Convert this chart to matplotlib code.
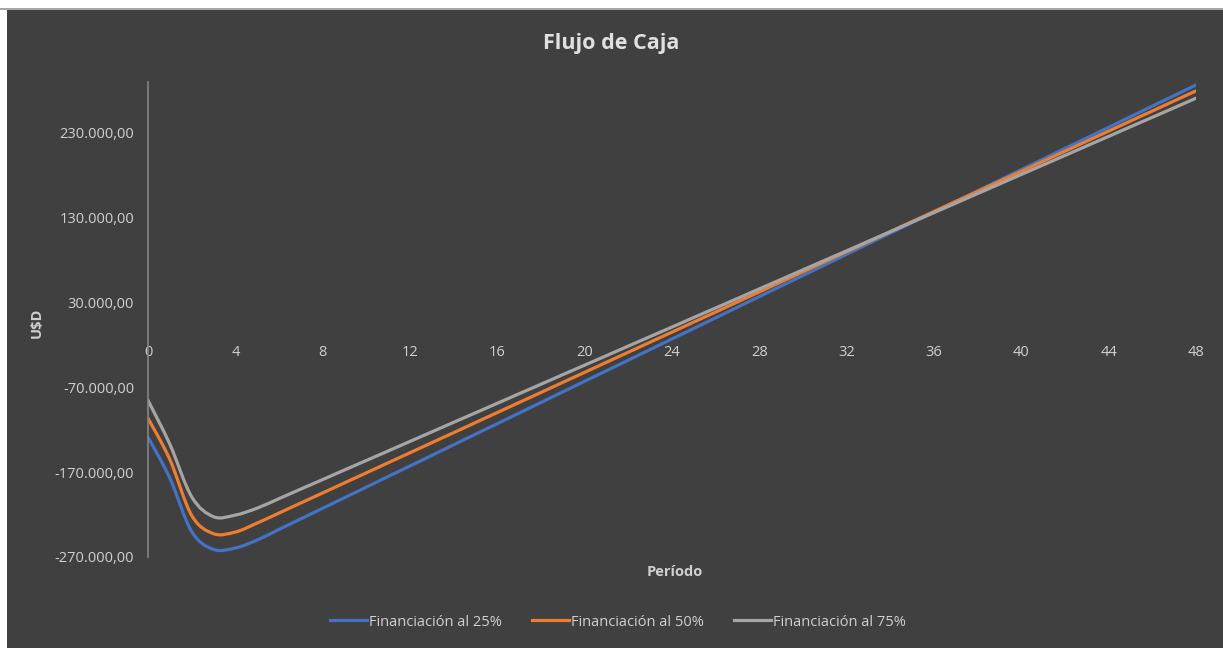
import numpy as np
from matplotlib import pyplot as plt
from matplotlib.lines import Line2D
from matplotlib.patches import PathPatch, Rectangle
from matplotlib.path import Path
from matplotlib.ticker import FuncFormatter

periods = list(range(49))

fin_25 = [
    -128800, -177000, -240000, -261000, -259400, -250000, -237500, -225000,
    -212600, -200100, -187600, -175100, -162700, -150200, -137700, -125200,
    -112800, -100300, -87800, -75300, -62800, -50400, -37900, -25400,
    -12900, -500, 12000, 24500, 37000, 49500, 61900, 74400,
    86900, 99400, 111800, 124300, 136800, 149300, 161700, 174200,
    186700, 199200, 211700, 224100, 236600, 249100, 261600, 274000,
    286500,
]
fin_50 = [
    -106500, -155000, -221000, -242500, -240600, -230000, -218200, -206300,
    -194500, -182600, -170800, -158900, -147100, -135200, -123400, -111500,
    -99700, -87800, -76000, -64100, -52300, -40400, -28600, -16700,
    -4900, 7000, 18800, 30700, 42500, 54400, 66200, 78100,
    89900, 101800, 113600, 125500, 137300, 149200, 161000, 172900,
    184700, 196600, 208400, 220300, 232100, 244000, 255800, 267700,
    279500,
]
fin_75 = [
    -85300, -137000, -199000, -222500, -220600, -212400, -201200, -189900,
    -178700, -167400, -156200, -145000, -133700, -122500, -111200, -100000,
    -88800, -77500, -66300, -55000, -43800, -32600, -21300, -10100,
    1100, 12400, 23600, 34800, 46100, 57300, 68600, 79800,
    91000, 102300, 113500, 124800, 136000, 147200, 158500, 169700,
    181000, 192200, 203400, 214700, 225900, 237200, 248400, 259600,
    270900,
]

series = [
    ("Financiación al 25%", fin_25, "#4472C4"),
    ("Financiación al 50%", fin_50, "#ED7D31"),
    ("Financiación al 75%", fin_75, "#A5A5A5"),
]

y_ticks = [-270000, -170000, -70000, 30000, 130000, 230000]
x_ticks = list(range(0, 49, 4))

BG = "#404040"
TEXT = "#d0d0d0"
FONT = "Open Sans"


def smooth_path(x, y):
    # Catmull-Rom segments written as cubic Bezier curves (spreadsheet-style smoothing)
    pts = np.column_stack([x, y]).astype(float)
    verts = [pts[0]]
    codes = [Path.MOVETO]
    n = len(pts)
    for i in range(n - 1):
        p0 = pts[i - 1] if i > 0 else pts[i]
        p1 = pts[i]
        p2 = pts[i + 1]
        p3 = pts[i + 2] if i + 2 < n else pts[i + 1]
        c1 = p1 + (p2 - p0) / 6.0
        c2 = p2 - (p3 - p1) / 6.0
        verts += [c1, c2, p2]
        codes += [Path.CURVE4] * 3
    return Path(verts, codes)


def thousands(v, _pos):
    s = f"{abs(v):,.2f}".replace(",", "X").replace(".", ",").replace("X", ".")
    return ("-" if v < 0 else "") + s


def main() -> None:
    fig = plt.figure(figsize=(12.23, 6.48), dpi=100, facecolor="white")
    fig.patches.append(Rectangle((7 / 1223, 0), 1 - 7 / 1223, 1 - 10 / 648,
                                 transform=fig.transFigure, facecolor=BG,
                                 edgecolor="none", zorder=-2))
    fig.patches.append(Rectangle((0, 1 - 10 / 648), 1, 2.5 / 648,
                                 transform=fig.transFigure, facecolor="#a8a8a8",
                                 edgecolor="none", zorder=-2))

    ax = fig.add_axes([148 / 1223, 91 / 648, (1196 - 148) / 1223, (557 - 82) / 648])
    ax.set_facecolor("none")

    handles = []
    for label, values, color in series:
        patch = PathPatch(smooth_path(periods, values), facecolor="none",
                          edgecolor=color, linewidth=2.3, capstyle="round",
                          joinstyle="round")
        ax.add_patch(patch)
        handles.append(Line2D([], [], color=color, linewidth=2.3, label=label))

    ax.set_xlim(0, 48)
    ax.set_ylim(-270000, 290000)
    ax.set_xticks(x_ticks)
    ax.set_yticks(y_ticks)
    ax.yaxis.set_major_formatter(FuncFormatter(thousands))

    for side in ("top", "right"):
        ax.spines[side].set_visible(False)
    ax.spines["bottom"].set_position(("data", 0))
    ax.spines["bottom"].set_visible(False)
    ax.spines["left"].set_color("#858585")
    ax.spines["left"].set_linewidth(1.2)

    ax.tick_params(axis="both", length=0, colors=TEXT, labelsize=10.5)
    ax.tick_params(axis="x", pad=12)
    ax.tick_params(axis="y", pad=10)
    for lbl in ax.get_xticklabels() + ax.get_yticklabels():
        lbl.set_fontfamily(FONT)

    fig.text(0.5, 1 - 43 / 648, "Flujo de Caja", ha="center", va="center",
             color="#e0e0e0", fontsize=15.5, fontweight="bold", family=FONT)
    fig.text(675 / 1223, 1 - 572 / 648, "Período", ha="center", va="center",
             color=TEXT, fontsize=10.5, fontweight="bold", family=FONT)
    fig.text(37 / 1223, 1 - 323 / 648, "U$D", ha="center", va="center",
             rotation=90, color=TEXT, fontsize=10.5, fontweight="bold",
             family=FONT)

    leg = fig.legend(handles=handles, loc="center", ncol=3,
                     bbox_to_anchor=(618 / 1223, 1 - 622 / 648), frameon=False,
                     handlelength=2.5, handletextpad=0.15, columnspacing=2.1,
                     prop={"family": FONT, "size": 10.5})
    for t in leg.get_texts():
        t.set_color(TEXT)

    fig.savefig("out.png", dpi=100, facecolor=fig.get_facecolor())


if __name__ == "__main__":
    main()
